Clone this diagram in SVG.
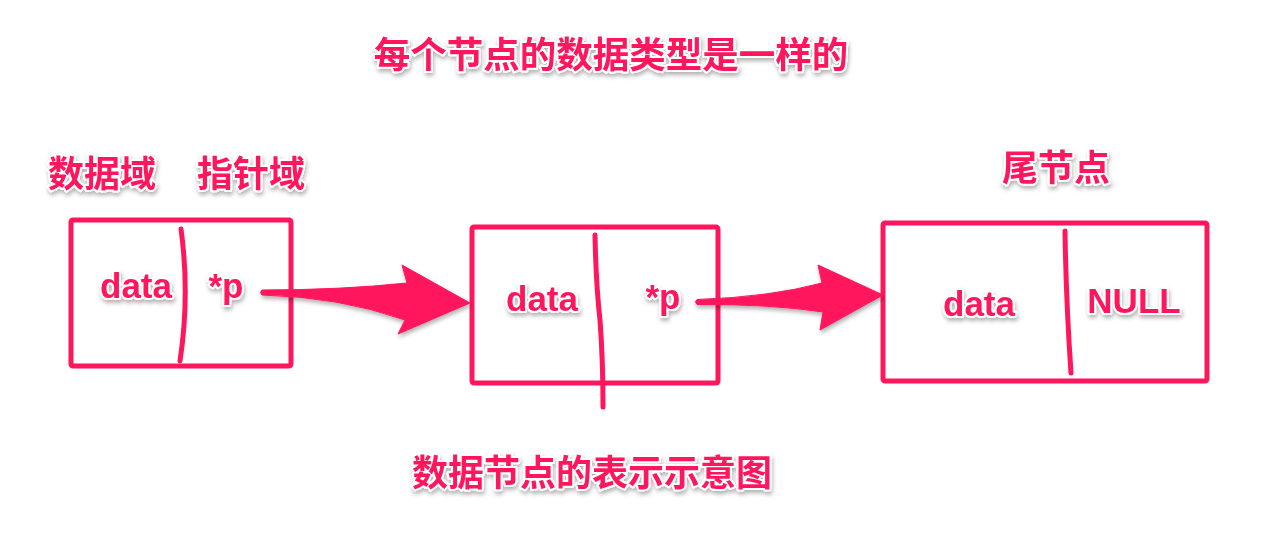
<svg xmlns="http://www.w3.org/2000/svg" width="1278" height="550" viewBox="0 0 1278 550">
<defs>
<filter id="sh" x="-20%" y="-30%" width="140%" height="170%">
<feDropShadow dx="1" dy="3" stdDeviation="2" flood-color="#000" flood-opacity="0.3"/>
</filter>
<style>
.box{fill:none;stroke:#FF165D;stroke-width:5;stroke-linejoin:round}
.div{fill:none;stroke:#FF165D;stroke-width:5;stroke-linecap:round}
.arr{fill:#FF165D;stroke:#FF165D;stroke-width:1;stroke-linejoin:round;filter:url(#sh)}
.cjk{font-family:"Noto Sans CJK SC","Liberation Sans",sans-serif;font-weight:bold;fill:#FF165D;stroke:#fff;stroke-width:4;paint-order:stroke;stroke-linejoin:round;filter:url(#sh);text-anchor:middle}
.lat{font-family:"Liberation Sans",Arial,sans-serif;font-weight:bold;font-size:35px;fill:#FF165D;stroke:#fff;stroke-width:4;paint-order:stroke;stroke-linejoin:round;filter:url(#sh);text-anchor:middle}
</style>
</defs>
<rect width="1278" height="550" fill="#fff"/>
<g id="title"><text class="cjk" x="611" y="68" font-size="36.5">每个节点的数据类型是一样的</text></g>
<g id="label-data-field"><text class="cjk" x="102" y="187" font-size="36">数据域</text></g>
<g id="label-pointer-field"><text class="cjk" x="251" y="187" font-size="36">指针域</text></g>
<g id="label-tail"><text class="cjk" x="1056" y="181" font-size="36">尾节点</text></g>
<g id="caption"><text class="cjk" x="592" y="486" font-size="36">数据节点的表示示意图</text></g>
<g id="node1">
<rect class="box" x="71" y="220" width="220" height="146" rx="2"/>
<path class="div" d="M181,229 Q190,295 180,361"/>
<text class="lat" x="136" y="298">data</text>
<text class="lat" x="226" y="298">*p</text>
</g>
<g id="node2">
<rect class="box" x="472" y="227" width="246" height="156" rx="2"/>
<path class="div" d="M595,235 Q596,285 600,320 Q603,360 603,407"/>
<text class="lat" x="542" y="311">data</text>
<text class="lat" x="663" y="309">*p</text>
</g>
<g id="node3">
<rect class="box" x="883" y="223" width="324" height="158" rx="2"/>
<path class="div" d="M1065,231 Q1066,300 1071,373"/>
<text class="lat" x="979" y="316">data</text>
<text class="lat" x="1134" y="313">NULL</text>
</g>
<g id="connectors">
<path class="arr" d="M262,290 Q340,290 407,283 L402,265 L470,303 L398,334 L405,320 Q340,297 262,295 Q259,292.5 262,290 Z"/>
<path class="arr" d="M697,299.5 Q770,297 822,283 L818,265 L883,295 L820,330 L823,312 Q770,304 697,304.5 Q694,302 697,299.5 Z"/>
</g>
</svg>
